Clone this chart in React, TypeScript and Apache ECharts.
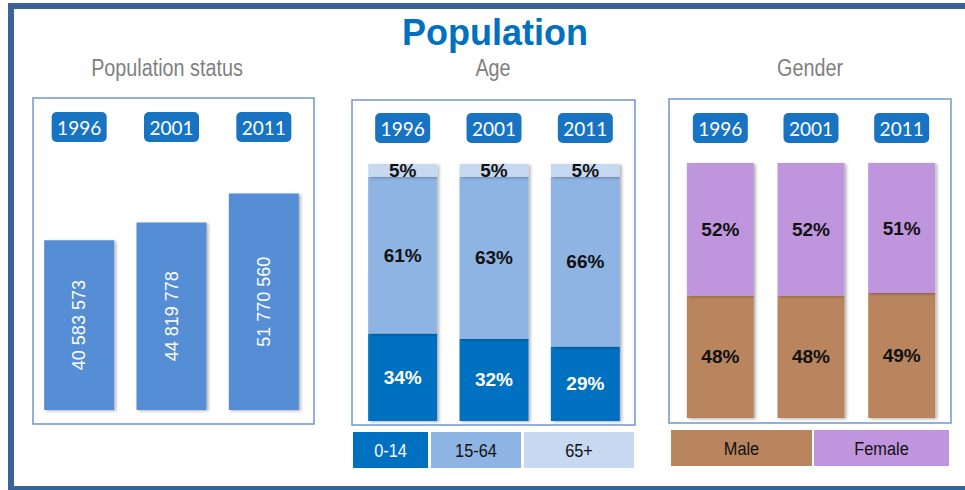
import React, { useEffect, useRef } from "react";
import * as echarts from "echarts";

const years = ["1996", "2001", "2011"];
const populationTotals = [40583573, 44819778, 51770560];
const age0to14 = [34, 32, 29];
const age15to64 = [61, 63, 66];
const age65plus = [5, 5, 5];
const male = [48, 48, 49];
const female = [52, 52, 51];
const ageLegend = ["0-14", "15-64", "65+"];
const genderLegend = ["Male", "Female"];
const mainTitle = "Population";
const panelTitles = ["Population status", "Age", "Gender"];

const NARROW = '"Liberation Sans Narrow", "Arial Narrow", "Liberation Sans", sans-serif';
const SANS = '"Liberation Sans", Arial, sans-serif';
const BADGE_FONT = 'Lato, "Open Sans", sans-serif';

const C_POP = "#558ed5";
const C_A1 = "#0070c0";
const C_A2 = "#8eb4e3";
const C_A3 = "#c6d9f1";
const C_MALE = "#b8855f";
const C_FEMALE = "#bf96de";

const shadow = {
  shadowColor: "rgba(0,0,0,0.3)",
  shadowBlur: 3,
  shadowOffsetX: 2,
  shadowOffsetY: 1,
};

function spaced(v: number) {
  return String(v).replace(/\B(?=(\d{3})+(?!\d))/g, " ");
}

function xAxisFor(gridIndex: number, margin: number) {
  return {
    gridIndex,
    type: "category",
    data: years,
    position: "top",
    axisLine: { show: false },
    axisTick: { show: false },
    splitLine: { show: false },
    axisLabel: {
      margin,
      color: "#ffffff",
      fontFamily: BADGE_FONT,
      fontSize: 19,
      lineHeight: 22,
      backgroundColor: "#1874c3",
      borderRadius: 5,
      padding: [4, 6],
      width: 43,
      align: "center",
    },
  };
}

function pctLabel(color: string) {
  return {
    show: true,
    position: "inside",
    color,
    fontFamily: NARROW,
    fontWeight: "bold",
    fontSize: 19,
    formatter: "{c}%",
  };
}

export default function App() {
  const ref = useRef<HTMLDivElement>(null);

  useEffect(() => {
    if (!ref.current) return;
    const chart = echarts.init(ref.current, null, { renderer: "svg" });

    const panelBox = (x: number, y: number, w: number, h: number) => ({
      type: "rect",
      shape: { x, y, width: w, height: h },
      style: { fill: "none", stroke: "#6f96cf", lineWidth: 1.5 },
      z: 0,
    });

    const legendBox = (
      x: number,
      y: number,
      w: number,
      h: number,
      fill: string,
      text: string,
      textColor: string
    ) => ({
      type: "group",
      children: [
        {
          type: "rect",
          shape: { x, y, width: w, height: h },
          style: { fill },
        },
        {
          type: "text",
          x: x + w / 2,
          y: y + h / 2 + 1,
          scaleX: 0.86,
          style: {
            text,
            x: 0,
            y: 0,
            textAlign: "center",
            textVerticalAlign: "middle",
            fill: textColor,
            font: `19px ${SANS}`,
          },
        },
      ],
    });

    const option = {
      animation: false,
      backgroundColor: "#ffffff",
      grid: [
        { left: 33, width: 277, top: 159, height: 251 },
        { left: 357, width: 274, top: 164, height: 257 },
        { left: 675, width: 272, top: 163, height: 255 },
      ],
      xAxis: [xAxisFor(0, 17), xAxisFor(1, 21), xAxisFor(2, 20)],
      yAxis: [0, 1, 2].map((i) => ({
        gridIndex: i,
        type: "value",
        min: 0,
        max: i === 0 ? 60000000 : 100,
        show: false,
      })),
      series: [
        {
          name: "Population",
          type: "bar",
          xAxisIndex: 0,
          yAxisIndex: 0,
          data: populationTotals,
          barWidth: 70,
          itemStyle: { color: C_POP, ...shadow },
          label: {
            show: true,
            position: "inside",
            rotate: 90,
            color: "#ffffff",
            fontFamily: NARROW,
            fontSize: 18,
            formatter: (p: any) => spaced(p.value),
          },
        },
        {
          name: ageLegend[0],
          type: "bar",
          stack: "age",
          xAxisIndex: 1,
          yAxisIndex: 1,
          data: age0to14,
          barWidth: 69,
          itemStyle: { color: C_A1, ...shadow },
          label: pctLabel("#ffffff"),
        },
        {
          name: ageLegend[1],
          type: "bar",
          stack: "age",
          xAxisIndex: 1,
          yAxisIndex: 1,
          data: age15to64,
          barWidth: 69,
          itemStyle: { color: C_A2, ...shadow },
          label: pctLabel("#111111"),
        },
        {
          name: ageLegend[2],
          type: "bar",
          stack: "age",
          xAxisIndex: 1,
          yAxisIndex: 1,
          data: age65plus,
          barWidth: 69,
          itemStyle: { color: C_A3, ...shadow },
          label: pctLabel("#111111"),
        },
        {
          name: genderLegend[0],
          type: "bar",
          stack: "gender",
          xAxisIndex: 2,
          yAxisIndex: 2,
          data: male,
          barWidth: 67,
          itemStyle: { color: C_MALE, ...shadow },
          label: pctLabel("#111111"),
        },
        {
          name: genderLegend[1],
          type: "bar",
          stack: "gender",
          xAxisIndex: 2,
          yAxisIndex: 2,
          data: female,
          barWidth: 67,
          itemStyle: { color: C_FEMALE, ...shadow },
          label: pctLabel("#111111"),
        },
      ],
      graphic: [
        {
          type: "rect",
          shape: { x: 11, y: 6, width: 1100, height: 483 },
          style: { fill: "none", stroke: "#3a6496", lineWidth: 6 },
          z: 0,
        },
        {
          type: "text",
          style: {
            text: mainTitle,
            x: 495,
            y: 32,
            textAlign: "center",
            textVerticalAlign: "middle",
            fill: "#0070c0",
            font: `bold 36px ${SANS}`,
          },
        },
        ...[167, 493, 810].map((x, i) => ({
          type: "text",
          x,
          y: 68,
          scaleX: 0.86,
          style: {
            text: panelTitles[i],
            x: 0,
            y: 0,
            textAlign: "center",
            textVerticalAlign: "middle",
            fill: "#7f7f7f",
            font: `23px ${SANS}`,
          },
        })),
        panelBox(33, 98, 281, 326),
        panelBox(352, 100, 283, 325),
        panelBox(669, 99, 282, 324),
        legendBox(353, 432, 75, 36, C_A1, ageLegend[0], "#ffffff"),
        legendBox(431, 432, 90, 36, C_A2, ageLegend[1], "#111111"),
        legendBox(524, 432, 110, 36, C_A3, ageLegend[2], "#111111"),
        legendBox(671, 430, 141, 36, C_MALE, genderLegend[0], "#111111"),
        legendBox(814, 430, 135, 36, C_FEMALE, genderLegend[1], "#111111"),
      ],
    };

    chart.setOption(option as any);
    return () => chart.dispose();
  }, []);

  return (
    <div
      ref={ref}
      style={{ position: "fixed", left: 0, top: 0, width: 965, height: 490 }}
    />
  );
}
